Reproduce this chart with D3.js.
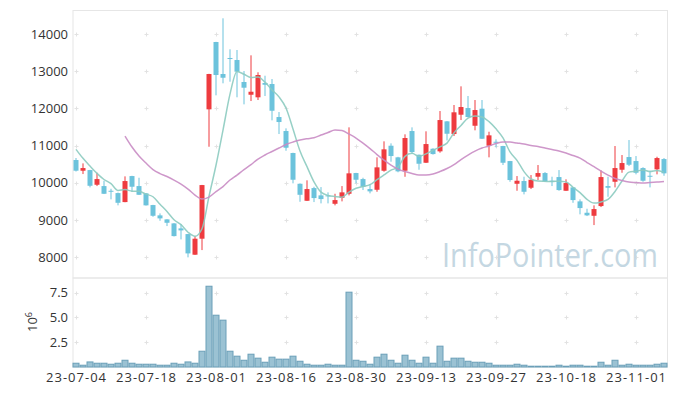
<!DOCTYPE html>
<html>
<head>
<meta charset="utf-8">
<script src="https://cdn.jsdelivr.net/npm/d3@7"></script>
<style>
  body { margin: 0; background: #fff; }
  svg text { font-family: "Open Sans", "Noto Sans", sans-serif; }
</style>
</head>
<body>
<svg id="chart" width="677" height="396"></svg>
<script>
var width = 677,
    height = 396;

// trading days (KRX), 2023-07-04 .. 2023-11-07
const dates = [
  "2023-07-04","2023-07-05","2023-07-06","2023-07-07","2023-07-10","2023-07-11","2023-07-12","2023-07-13","2023-07-14","2023-07-17",
  "2023-07-18","2023-07-19","2023-07-20","2023-07-21","2023-07-24","2023-07-25","2023-07-26","2023-07-27","2023-07-28","2023-07-31",
  "2023-08-01","2023-08-02","2023-08-03","2023-08-04","2023-08-07","2023-08-08","2023-08-09","2023-08-10","2023-08-11","2023-08-14",
  "2023-08-16","2023-08-17","2023-08-18","2023-08-21","2023-08-22","2023-08-23","2023-08-24","2023-08-25","2023-08-28","2023-08-29",
  "2023-08-30","2023-08-31","2023-09-01","2023-09-04","2023-09-05","2023-09-06","2023-09-07","2023-09-08","2023-09-11","2023-09-12",
  "2023-09-13","2023-09-14","2023-09-15","2023-09-18","2023-09-19","2023-09-20","2023-09-21","2023-09-22","2023-09-25","2023-09-26",
  "2023-09-27","2023-10-04","2023-10-05","2023-10-06","2023-10-10","2023-10-11","2023-10-12","2023-10-13","2023-10-16","2023-10-17",
  "2023-10-18","2023-10-19","2023-10-20","2023-10-23","2023-10-24","2023-10-25","2023-10-26","2023-10-27","2023-10-30","2023-10-31",
  "2023-11-01","2023-11-02","2023-11-03","2023-11-06","2023-11-07"
];

const open = [
  10614,10326,10344,9949,9914,9788,9726,9484,10183,9914,
  9718,9404,9127,9019,8911,8777,8624,8070,8500,11976,
  13785,12925,13355,13301,12710,12368,12299,12683,12656,11769,
  11393,10802,9976,9519,9860,9664,9664,9438,9600,9707,
  10264,10102,9834,9815,10326,10998,10686,10326,11393,10756,
  10541,10917,10847,11653,11312,11831,12011,11535,11993,10998,
  11105,10990,10586,9976,10049,9869,10165,10264,10057,10156,
  9788,9879,9503,9197,9116,9377,9914,10030,10353,10694,
  10586,10398,10191,10363,10640
];
const high = [
  10668,10524,10350,10272,10057,9842,9740,10175,10190,10138,
  9725,9410,9180,9025,8920,8895,8630,8570,9945,12930,
  13790,14422,13589,13570,13005,13427,12971,12879,12790,11903,
  11465,10810,9985,10068,9895,9887,9745,9707,9914,11492,
  10270,10138,9968,10686,11116,11062,10700,11304,11492,10760,
  11385,10930,11930,11660,12092,12594,12334,12226,12226,11374,
  11170,10995,10590,10183,10165,10210,10479,10290,10165,10344,
  10095,9885,9557,9305,9396,10336,10165,10990,10748,11151,
  10721,10420,10326,10702,10667
];
const low = [
  10305,10237,9879,9914,9700,9557,9396,9480,9761,9675,
  9390,9089,8982,8839,8560,8481,7999,8065,8194,10971,
  12352,12675,12718,12299,12110,12199,12226,12333,11680,11312,
  10863,9987,9492,9515,9484,9449,9449,9396,9503,9664,
  9987,9807,9718,9761,10300,10568,10285,10164,10774,10353,
  10535,10760,10811,11140,11259,11688,11760,11412,11180,10686,
  10955,10479,10030,9788,9691,9834,10076,10020,9914,9788,
  9785,9465,9154,9108,8866,9350,9627,9879,10272,10452,
  10229,10030,9879,10229,10191
];
const close = [
  10327,10398,9922,10102,9707,9772,9465,10049,9896,9680,
  9396,9116,9046,8928,8570,8723,8105,8500,9941,12925,
  12898,12825,13328,12987,12557,12449,12898,12637,11938,11635,
  10944,10084,9680,9834,9592,9565,9645,9538,9745,10256,
  10084,9896,9772,10417,10901,10721,10310,11205,10828,10514,
  11043,10774,11688,11320,11896,12038,11769,11957,11186,11277,
  11078,10541,10076,10057,9761,10084,10264,10041,10030,9807,
  9995,9538,9323,9127,9296,10156,9869,10398,10533,10487,
  10272,10057,10165,10667,10256
];
// volume, millions of shares
const volume = [
  0.38,0.18,0.51,0.38,0.38,0.28,0.38,0.68,0.38,0.28,
  0.28,0.28,0.18,0.18,0.38,0.28,0.51,0.38,1.59,8.14,
  5.22,4.72,1.59,1.09,0.68,1.29,0.89,0.48,0.99,0.79,
  0.79,1.09,0.58,0.28,0.18,0.18,0.28,0.18,0.18,7.54,
  0.68,0.58,0.28,0.99,1.29,0.68,0.38,1.19,0.68,0.38,
  0.99,0.38,2.10,0.58,0.89,0.89,0.58,0.48,0.48,0.38,
  0.18,0.18,0.18,0.28,0.18,0.08,0.08,0.08,0.08,0.18,
  0.08,0.18,0.18,0.08,0.08,0.48,0.18,0.68,0.18,0.28,
  0.18,0.18,0.18,0.28,0.38
];
const ma5 = [
  10901,10659,10452,10256,10091,9980,9794,9819,9778,9772,
  9697,9627,9427,9233,9011,8877,8674,8565,8768,9639,
  10474,11418,12383,12993,12919,12829,12844,12706,12496,12311,
  12010,11448,10856,10435,10027,9751,9663,9635,9617,9750,
  9854,9904,9951,10085,10214,10341,10424,10711,10793,10716,
  10780,10873,10969,11068,11344,11543,11742,11796,11769,11645,
  11453,11208,10832,10606,10303,10104,10048,10041,10036,10045,
  10027,9882,9739,9558,9456,9488,9554,9769,10050,10289,
  10312,10349,10303,10330,10283
];
const ma20 = [
  null,null,null,null,null,null,null,11258,10963,10721,
  10532,10358,10250,10170,10076,9968,9834,9672,9565,9619,
  9766,9901,10076,10210,10358,10492,10640,10748,10842,10936,
  11030,11097,11151,11186,11213,11285,11352,11420,11406,11312,
  11205,11070,10922,10761,10613,10479,10371,10304,10250,10210,
  10210,10237,10304,10385,10492,10627,10748,10855,10936,10990,
  11057,11097,11097,11070,11043,11003,10976,10936,10896,10855,
  10801,10734,10667,10546,10438,10317,10210,10116,10062,10022,
  10008,9995,10008,10022,10035
];

const priceTicks = [8000, 9000, 10000, 11000, 12000, 13000, 14000];
const volumeTicks = [2.5, 5.0, 7.5];
const tickDates = ["2023-07-04","2023-07-18","2023-08-01","2023-08-16","2023-08-30",
                   "2023-09-13","2023-09-27","2023-10-18","2023-11-01"];

const upColor = "#ee3b3f";
const downColor = "#6cc3dc";
const gridColor = "#e2e2e2";
const borderColor = "#e6e6e6";

var svg = d3.select("#chart");

var x = d3.scaleBand().domain(dates).range([72.5, 667.5]).padding(0);
function cx(d) { return x(d) + x.bandwidth() / 2; }

var yPrice = d3.scaleLinear().domain([7444, 14645]).range([278, 10]);
var yVol = d3.scaleLinear().domain([0, 8.97]).range([367, 278]);

// panel borders
svg.append("rect")
    .attr("x", 73).attr("y", 10.5).attr("width", 594.5).attr("height", 267.5)
    .attr("fill", "none").attr("stroke", borderColor);
svg.append("rect")
    .attr("x", 73).attr("y", 278).attr("width", 594.5).attr("height", 89)
    .attr("fill", "none").attr("stroke", borderColor);

// grid: small crosses at intersections
function crosses(g, yScale, yValues) {
    const pts = [];
    tickDates.forEach(function (d) {
        yValues.forEach(function (v) { pts.push([Math.round(cx(d)) + 0.5, Math.round(yScale(v)) + 0.5]); });
    });
    g.selectAll("path")
        .data(pts)
        .join("path")
        .attr("d", function (p) {
            return "M" + (p[0] - 2) + "," + p[1] + "h4M" + p[0] + "," + (p[1] - 2) + "v4";
        })
        .attr("stroke", gridColor)
        .attr("stroke-width", 1);
}
crosses(svg.append("g"), yPrice, priceTicks);
crosses(svg.append("g"), yVol, volumeTicks);

// watermark
svg.append("text")
    .attr("x", 658).attr("y", 267)
    .attr("text-anchor", "end")
    .attr("font-size", 33)
    .attr("fill", "#c4d7e2")
    .attr("textLength", 216)
    .attr("lengthAdjust", "spacingAndGlyphs")
    .text("InfoPointer.com");

// y axis labels
svg.append("g")
    .selectAll("text")
    .data(priceTicks)
    .join("text")
    .attr("x", 68)
    .attr("y", function (d) { return yPrice(d) + 4.5; })
    .attr("text-anchor", "end")
    .attr("font-size", 13)
    .attr("fill", "#333")
    .text(function (d) { return d; });

svg.append("g")
    .selectAll("text")
    .data(volumeTicks)
    .join("text")
    .attr("x", 68)
    .attr("y", function (d) { return yVol(d) + 4.5; })
    .attr("text-anchor", "end")
    .attr("font-size", 13)
    .attr("fill", "#333")
    .text(function (d) { return d.toFixed(1); });

var unit = svg.append("text")
    .attr("transform", "translate(37,322) rotate(-90)")
    .attr("text-anchor", "middle")
    .attr("font-size", 13)
    .attr("fill", "#333");
unit.append("tspan").text("10");
unit.append("tspan").attr("dy", -5).attr("font-size", 9).text("6");

// x axis labels
var fmt = d3.timeFormat("%y-%m-%d");
var parse = d3.timeParse("%Y-%m-%d");
svg.append("g")
    .selectAll("text")
    .data(tickDates)
    .join("text")
    .attr("x", function (d) { return cx(d); })
    .attr("y", 382)
    .attr("text-anchor", "middle")
    .attr("font-size", 13)
    .attr("fill", "#333")
    .attr("textLength", 60)
    .attr("lengthAdjust", "spacing")
    .text(function (d) { return fmt(parse(d)); });

// volume bars
svg.append("g")
    .selectAll("rect")
    .data(dates)
    .join("rect")
    .attr("x", function (d) { return x(d) + 0.5; })
    .attr("width", x.bandwidth() - 1)
    .attr("y", function (d, i) { return yVol(volume[i]); })
    .attr("height", function (d, i) { return yVol(0) - yVol(volume[i]); })
    .attr("fill", "#9bc2d3")
    .attr("stroke", "#6a9fb8")
    .attr("stroke-width", 1);

// candles
var candles = svg.append("g")
    .selectAll("g")
    .data(dates)
    .join("g")
    .attr("fill", function (d, i) { return close[i] >= open[i] ? upColor : downColor; })
    .attr("stroke", function (d, i) { return close[i] >= open[i] ? upColor : downColor; });

candles.append("line")
    .attr("x1", function (d) { return cx(d); })
    .attr("x2", function (d) { return cx(d); })
    .attr("y1", function (d, i) { return yPrice(high[i]); })
    .attr("y2", function (d, i) { return yPrice(low[i]); })
    .attr("stroke-width", 1);

candles.append("rect")
    .attr("x", function (d) { return cx(d) - 2.5; })
    .attr("width", 5)
    .attr("y", function (d, i) { return yPrice(Math.max(open[i], close[i])); })
    .attr("height", function (d, i) { return Math.max(1, Math.abs(yPrice(open[i]) - yPrice(close[i]))); })
    .attr("stroke", "none");

// moving averages
function maLine(values, color) {
    var line = d3.line()
        .defined(function (d, i) { return values[i] != null; })
        .x(function (d) { return cx(d); })
        .y(function (d, i) { return yPrice(values[i]); })
        .curve(d3.curveMonotoneX);
    svg.append("path")
        .attr("d", line(dates))
        .attr("fill", "none")
        .attr("stroke", color)
        .attr("stroke-width", 1.5)
        .attr("opacity", 0.9);
}
maLine(ma5, "#8ccbc0");
maLine(ma20, "#c98cc4");
</script>
</body>
</html>
